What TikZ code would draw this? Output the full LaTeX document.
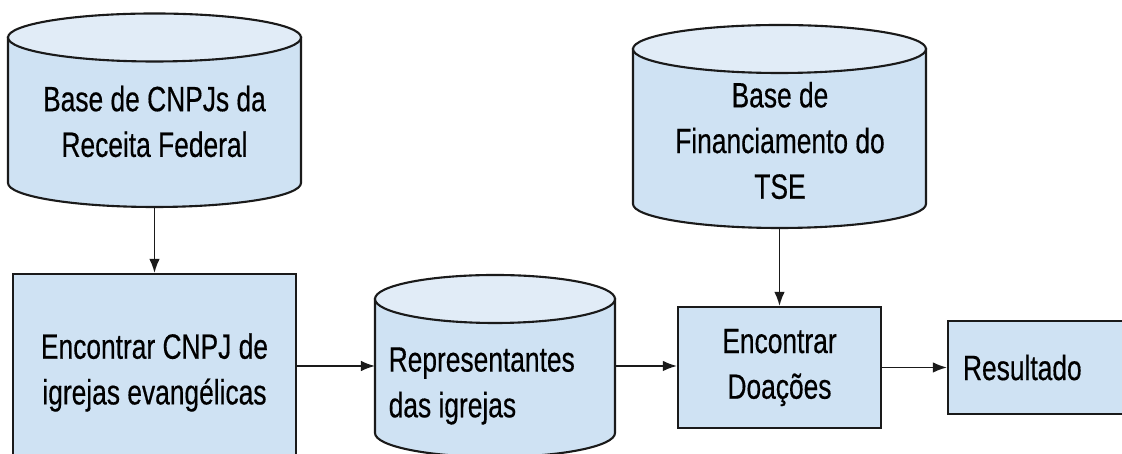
\documentclass[tikz,border=0pt]{standalone}
\usepackage{fontspec}
\setmainfont[FakeStretch=0.75, FakeBold=0.4]{Liberation Sans}
\usetikzlibrary{arrows.meta}
\definecolor{cylbody}{HTML}{CFE2F3}
\definecolor{cyltop}{HTML}{E1ECF7}
\definecolor{edge}{HTML}{1A1A1A}
\def\drum[#1](#2:#3:#4:#5){%
	\filldraw[drumline, fill=cylbody] (#2-#3, #4) -- (#2-#3, #5) arc[start angle=180, end angle=360, x radius=#3, y radius=0.24] -- (#2+#3, #4) -- cycle;
	\filldraw[drumline, fill=cyltop] (#2, #4) ellipse[x radius=#3, y radius=0.24];
	\coordinate (#1-n) at (#2, #4+0.24);
	\coordinate (#1-s) at (#2, #5-0.24);
	\coordinate (#1-w) at (#2-#3, {0.5*(#4)+0.5*(#5)});
	\coordinate (#1-e) at (#2+#3, {0.5*(#4)+0.5*(#5)});
}

\begin{document}
\begin{tikzpicture}[
		drumline/.style={draw=edge, line width=0.6pt},
		txt/.style={inner sep=0pt, align=center, font=\fontsize{10}{13}\selectfont},
		task/.style={txt, draw=edge, line width=0.6pt, fill=cylbody},
		flow/.style={-{Latex[length=4pt, width=3pt]}, line width=0.45pt, draw=edge},
	]
			%%%%% START %%%%%
			
			\useasboundingbox (0, 0) rectangle (11.22, -4.54);
			\clip (0, 0) rectangle (11.22, -4.54);
			
			\drum[rfb](1.545:1.465:-0.375:-1.83)
			\node[txt] (rfb) at (1.545, -1.215) {Base de CNPJs da\\Receita Federal};
			
			\drum[tse](7.795:1.465:-0.49:-2.04)
			\node[txt] (tse) at (7.80, -1.405) {Base de\\Financiamento do\\TSE};
			
			\drum[reps](4.95:1.20:-2.99:-4.33)
			\node[txt, align=left, anchor=west] (reps) at (3.88, -3.86) {Representantes\\das igrejas};
			
			\node[task, minimum width=2.83cm, minimum height=1.97cm] (busca) at (1.545, -3.725) {Encontrar CNPJ de\\igrejas evangélicas};
			\node[task, minimum width=2.03cm, minimum height=1.21cm] (doacoes) at (7.795, -3.675) {Encontrar\\Doações};
			\node[task, minimum width=1.87cm, minimum height=0.93cm, text width=1.57cm, align=left] (resultado) at (10.415, -3.675) {Resultado};
			
			\draw[flow] (rfb-s) -- (busca.north);
			\draw[flow] (busca.east |- reps-w) -- (reps-w);
			\draw[flow] (reps-e) -- (reps-e -| doacoes.west);
			\draw[flow] (tse-s) -- (doacoes.north);
			\draw[flow] (doacoes.east) -- (resultado.west);
			
			%%%%% END %%%%%
\end{tikzpicture}
\end{document}
